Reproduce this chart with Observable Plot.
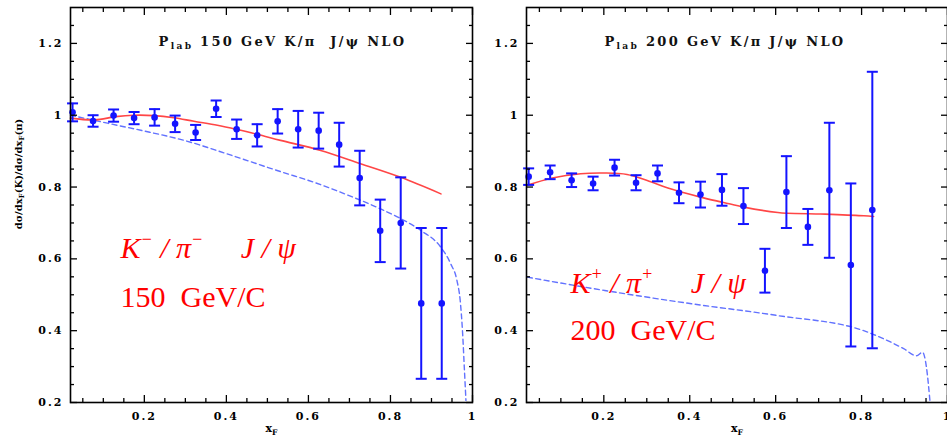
<!DOCTYPE html>
<html><head><meta charset="utf-8">
<script src="https://cdn.jsdelivr.net/npm/d3@7"></script>
<script src="https://cdn.jsdelivr.net/npm/@observablehq/plot@0.6"></script>
<style>
html,body{margin:0;padding:0;background:#fff;overflow:hidden;width:947px;height:439px;}
#wrap{position:relative;width:947px;height:439px;overflow:hidden;}
#wrap svg{position:absolute;top:0;max-width:none;}
</style></head><body><div id="wrap"></div>
<script>
// ---------- data: 150 GeV K-/pi- ----------
const leftX   = [0.025,0.075,0.125,0.175,0.225,0.275,0.325,0.375,0.425,0.475,0.525,0.575,0.625,0.675,0.725,0.775,0.825,0.875,0.925];
const leftY   = [1.008,0.984,0.999,0.992,0.994,0.976,0.952,1.018,0.961,0.944,0.983,0.961,0.957,0.918,0.825,0.678,0.700,0.476,0.476];
const leftErr = [0.025,0.016,0.017,0.017,0.023,0.023,0.021,0.023,0.027,0.031,0.034,0.051,0.050,0.061,0.076,0.087,0.127,0.210,0.210];
const leftNloX = [0.02,0.079,0.13,0.174,0.223,0.272,0.321,0.378,0.427,0.475,0.532,0.63,0.727,0.825,0.923];
const leftNloY = [0.992,0.987,0.996,1.0,0.999,0.993,0.983,0.972,0.960,0.947,0.930,0.902,0.865,0.827,0.781];
const leftDashX = [0.02,0.077,0.134,0.2,0.3,0.4,0.5,0.532,0.614,0.695,0.776,0.825,0.874,0.923,0.947,0.962,0.970,0.976,0.980,0.984];
const leftDashY = [1.0,0.986,0.972,0.956,0.929,0.893,0.855,0.843,0.813,0.778,0.739,0.712,0.679,0.632,0.586,0.540,0.484,0.391,0.298,0.206];

// ---------- data: 200 GeV K+/pi+ ----------
const rightX   = [0.025,0.075,0.125,0.175,0.225,0.275,0.325,0.375,0.425,0.475,0.525,0.575,0.625,0.675,0.725,0.775,0.825];
const rightY   = [0.829,0.841,0.819,0.810,0.854,0.812,0.838,0.784,0.779,0.792,0.747,0.567,0.786,0.689,0.791,0.583,0.736];
const rightErr = [0.023,0.019,0.019,0.019,0.022,0.021,0.022,0.029,0.036,0.044,0.050,0.061,0.100,0.050,0.188,0.227,0.385];
const rightNloX = [0.02,0.08,0.146,0.202,0.254,0.301,0.355,0.425,0.479,0.526,0.605,0.627,0.704,0.728,0.805,0.828];
const rightNloY = [0.804,0.825,0.837,0.839,0.835,0.818,0.795,0.772,0.757,0.744,0.729,0.727,0.725,0.724,0.720,0.718];
const rightDashX = [0.022,0.202,0.404,0.605,0.805,0.852,0.898,0.928,0.942,0.951,0.959];
const rightDashY = [0.549,0.512,0.475,0.442,0.400,0.377,0.350,0.330,0.340,0.298,0.206];

// ---------- tick labels & texts ----------
const yMajor = [0.2,0.4,0.6,0.8,1,1.2];
const xMajor = [0.2,0.4,0.6,0.8,1];
const yMinor = d3.range(0.25,1.3,0.05).map(v=>+v.toFixed(2)).filter(v=>Math.abs(v*5-Math.round(v*5))>1e-6);
const xMinor = d3.range(0.05,1.0,0.05).map(v=>+v.toFixed(2)).filter(v=>Math.abs(v*5-Math.round(v*5))>1e-6);
const leftTitle = "P_{lab} 150 GeV K/π\u00a0\u00a0J/ψ NLO";
const rightTitle = "P_{lab} 200 GeV K/π J/ψ NLO";
const leftLine1 = "K^{−}\u00a0/\u00a0π^{−}\u00a0\u00a0\u00a0\u00a0\u00a0J\u00a0/\u00a0ψ";
const leftLine2 = "150\u00a0\u00a0GeV/C";
const rightLine1 = "K^{+}\u00a0/\u00a0π^{+}\u00a0\u00a0\u00a0\u00a0\u00a0J\u00a0/\u00a0ψ";
const rightLine2 = "200\u00a0\u00a0GeV/C";
const yLabel = "dσ/dx_{F}(K)/dσ/dx_{F}(π)";
const xLabel = "x_{F}";

const zip = (xs, ys, es) => xs.map((x,i)=>({x, y: ys[i], e: es ? es[i] : 0}));
const hline = {draw(ctx, size){ const r = Math.sqrt(size/Math.PI); ctx.moveTo(-r,0); ctx.lineTo(r,0); }};
const BLUE = "#1414ff";
const fmt = d => String(d);

function rich(svg){
  d3.select(svg).selectAll("text").each(function(){
    const s = this.textContent;
    if (!/[_^]\{/.test(s)) return;
    const big = this.closest("[font-size]");
    const fs = parseFloat(big ? big.getAttribute("font-size") : 12) || 12;
    const sel = d3.select(this); sel.text(null);
    let cur = 0;
    for (const p of s.split(/([_^]\{[^}]*\})/)) {
      if (!p) continue;
      let target = 0, t;
      if (p.startsWith("_{")) { target = fs*0.25; t = sel.append("tspan").attr("font-size","70%").text(p.slice(2,-1)); }
      else if (p.startsWith("^{")) { target = -fs*0.42; t = sel.append("tspan").attr("font-size","60%").text(p.slice(2,-1)); }
      else { t = sel.append("tspan").text(p); }
      if (target !== cur) { t.attr("dy", (target-cur).toFixed(1)); cur = target; }
    }
  });
}

function panel(o){
  const pts = zip(o.px, o.py, o.pe);
  const nlo = zip(o.nx, o.ny);
  const dash = zip(o.dx, o.dy);
  const serif = {fontFamily:"DejaVu Serif", fontWeight:"bold", fontSize: 11};
  const tk = {tickFormat:()=>"", strokeWidth:1.3, label:null};
  const marks = [
    Plot.line(dash, {x:"x", y:"y", stroke:"#6272ff", strokeWidth:1.4, strokeDasharray:"5,3.5", curve:"monotone-x"}),
    Plot.line(nlo, {x:"x", y:"y", stroke:"#ff4646", strokeWidth:1.6, curve:"catmull-rom"}),
    Plot.ruleX(pts, {x:"x", y1:d=>d.y-d.e, y2:d=>d.y+d.e, stroke:BLUE, strokeWidth:2}),
    Plot.dot(pts, {x:"x", y:d=>d.y-d.e, symbol:hline, r:5.5, stroke:BLUE, strokeWidth:2, fill:"none"}),
    Plot.dot(pts, {x:"x", y:d=>d.y+d.e, symbol:hline, r:5.5, stroke:BLUE, strokeWidth:2, fill:"none"}),
    Plot.dot(pts, {x:"x", y:"y", r:3.3, fill:BLUE, stroke:"none"}),
    // inward ticks on all four sides
    Plot.axisX(xMajor, {anchor:"bottom", tickSize:7, dy:-7, ...tk}),
    Plot.axisX(xMinor, {anchor:"bottom", tickSize:4, dy:-4, ...tk}),
    Plot.axisX(xMajor, {anchor:"top", tickSize:7, dy:7, ...tk}),
    Plot.axisX(xMinor, {anchor:"top", tickSize:4, dy:4, ...tk}),
    Plot.axisY(yMajor, {anchor:"left", tickSize:7, dx:7, ...tk}),
    Plot.axisY(yMinor, {anchor:"left", tickSize:4, dx:4, ...tk}),
    Plot.axisY(yMajor, {anchor:"right", tickSize:7, dx:-7, ...tk}),
    Plot.axisY(yMinor, {anchor:"right", tickSize:4, dx:-4, ...tk}),
    // tick labels
    Plot.axisX(xMajor, {anchor:"bottom", tickSize:0, tickPadding:10, label:null, tickFormat:fmt, ...serif}),
    Plot.axisY(yMajor, {anchor:"left", tickSize:0, tickPadding:7, label:null, tickFormat:fmt, ...serif}),
    Plot.frame({stroke:"black", strokeWidth:1.6}),
    Plot.text([o.title], {text:d=>d, frameAnchor:"top", dx:o.titleDx, dy:38, lineAnchor:"bottom", fontFamily:"DejaVu Serif", fontWeight:"bold", fontSize:13, fill:"#111"}),
    Plot.text([xLabel], {text:d=>d, frameAnchor:"bottom", dy:26, lineAnchor:"middle", fontFamily:"DejaVu Serif", fontWeight:"bold", fontSize:11}),
    Plot.text([o.l1], {text:d=>d, frameAnchor:"top-left", dx:o.lx, dy:o.l1y, textAnchor:"start", lineAnchor:"bottom", fontFamily:"Liberation Serif", fontStyle:"italic", fontSize:30, fill:"#ff0000"}),
    Plot.text([o.l2], {text:d=>d, frameAnchor:"top-left", dx:o.lx, dy:o.l2y, textAnchor:"start", lineAnchor:"bottom", fontFamily:"Liberation Serif", fontSize:30, fill:"#ff0000"})
  ];
  if (o.yl) marks.push(Plot.text([yLabel], {text:d=>d, frameAnchor:"left", dx:-52, dy:-31, rotate:-90, textAnchor:"middle", lineAnchor:"middle", fontFamily:"DejaVu Serif", fontWeight:"bold", fontSize:10}));
  const svg = Plot.plot({
    width:o.width, height:439, marginTop:7, marginBottom:37, marginLeft:o.ml, marginRight:o.mr,
    x:{domain:[0.02,1]}, y:{domain:[0.2,1.3]},
    style:{background:"none", overflow:"visible"},
    marks
  });
  rich(svg);
  d3.select(svg).selectAll("text").each(function(){
    const t = this.textContent;
    if (t.includes("NLO")) this.style.letterSpacing = "2.3px";
    else if (/^\d+(\.\d+)?$/.test(t)) this.style.letterSpacing = "2px";
  });
  svg.style.left = o.left + "px";
  return svg;
}

const wrap = document.getElementById("wrap");
wrap.appendChild(panel({left:470, width:480, ml:56, mr:3,
  px:rightX, py:rightY, pe:rightErr, nx:rightNloX, ny:rightNloY, dx:rightDashX, dy:rightDashY,
  title:rightTitle, titleDx:-12, l1:rightLine1, l2:rightLine2, lx:44, l1y:285, l2y:332, yl:false}));
wrap.appendChild(panel({left:0, width:480, ml:70, mr:8,
  px:leftX, py:leftY, pe:leftErr, nx:leftNloX, ny:leftNloY, dx:leftDashX, dy:leftDashY,
  title:leftTitle, titleDx:11, l1:leftLine1, l2:leftLine2, lx:50, l1y:250, l2y:299, yl:true}));
</script></body></html>
